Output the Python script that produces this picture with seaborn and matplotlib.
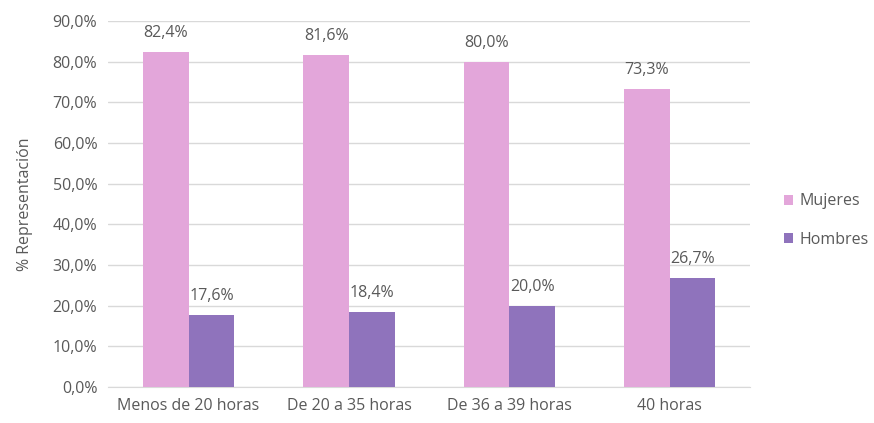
import seaborn as sns
import pandas as pd
import matplotlib.pyplot as plt
from matplotlib.ticker import FuncFormatter

categorias = ["Menos de 20 horas", "De 20 a 35 horas", "De 36 a 39 horas", "40 horas"]
mujeres = [82.4, 81.6, 80.0, 73.3]
hombres = [17.6, 18.4, 20.0, 26.7]
series = ["Mujeres", "Hombres"]
colores = ["#E3A6DA", "#8F73BC"]

df = pd.DataFrame({
    "cat": categorias * 2,
    "serie": [series[0]] * 4 + [series[1]] * 4,
    "valor": mujeres + hombres,
})

sns.set_style("white")
plt.rcParams["font.family"] = ["Open Sans", "DejaVu Sans"]
gris = "#595959"
fs = 11.5

fig = plt.figure(figsize=(8.74, 4.23), dpi=100)
ax = fig.add_axes([0.124, 0.085, 0.734, 0.865])

sns.barplot(data=df, x="cat", y="valor", hue="serie", order=categorias,
            hue_order=series, palette=colores, width=0.57, gap=0,
            saturation=1, linewidth=0, ax=ax, zorder=3)

for cont in ax.containers:
    labels = [f"{v:.1f}%".replace(".", ",") for v in cont.datavalues]
    ax.bar_label(cont, labels=labels, padding=8, fontsize=fs, color=gris)

ax.set_ylim(0, 90)
ax.set_yticks(range(0, 91, 10))
ax.yaxis.set_major_formatter(FuncFormatter(lambda v, p: f"{v:.1f}%".replace(".", ",")))
ax.grid(axis="y", color="#D9D9D9", linewidth=1, zorder=0)
ax.set_axisbelow(True)
for s in ["top", "right", "left"]:
    ax.spines[s].set_visible(False)
ax.spines["bottom"].set_color("#D9D9D9")
ax.tick_params(axis="both", length=0, labelsize=fs, colors=gris, pad=8)
ax.set_xlabel("")
ax.set_ylabel("% Representación", fontsize=fs, color=gris, labelpad=14)

leg = ax.legend(loc="center left", bbox_to_anchor=(1.03, 0.455), frameon=False,
                fontsize=fs, handlelength=0.6, handleheight=0.6,
                labelspacing=1.4, handletextpad=0.4)
for t in leg.get_texts():
    t.set_color(gris)

fig.savefig("out.png", dpi=100)
